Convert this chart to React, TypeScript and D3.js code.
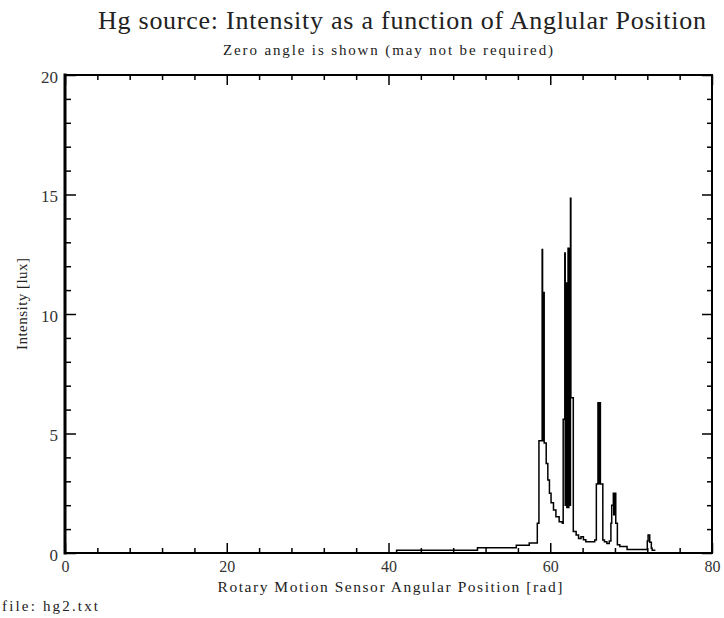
import React, { useEffect, useRef } from 'react';
import * as d3 from 'd3';

// angular position [rad] and intensity [lux]
const angle = [
  0, 41.0, 51.0, 55.8, 57.4, 58.4, 58.6,
  59.0, 59.05, 59.1, 59.13, 59.16, 59.19, 59.22, 59.25,
  59.5, 59.7, 59.9, 60.1, 60.4, 60.7, 61.1, 61.5,
  61.6, 61.8, 61.85, 61.9, 61.95, 62.0, 62.05, 62.1, 62.15,
  62.2, 62.25, 62.3, 62.35, 62.4, 62.45, 62.5, 62.55,
  62.85, 63.2, 63.5, 63.8, 64.1, 64.4, 65.0, 65.5,
  65.7, 65.9, 65.95, 66.0, 66.05, 66.1, 66.2,
  66.5, 66.7, 67.0, 67.3, 67.5, 67.6,
  67.8, 67.85, 67.9, 67.95, 68.0, 68.1,
  68.3, 68.6, 69.5, 71.9, 72.0, 72.1, 72.3, 72.5, 72.6, 73.0,
];
const intensity = [
  0, 0.12, 0.22, 0.32, 0.42, 1.25, 4.7,
  12.7, 4.7, 10.9, 4.8, 10.9, 4.8, 10.9, 4.6,
  3.75, 3.05, 2.5, 2.1, 1.8, 1.52, 1.31, 1.24,
  5.6, 12.55, 2.0, 11.3, 2.0, 11.3, 1.9, 11.3, 1.9,
  12.75, 1.9, 12.75, 2.0, 12.75, 2.0, 14.84, 6.5,
  0.9, 0.75, 0.61, 0.68, 0.55, 0.47, 0.47, 0.54,
  2.89, 6.29, 2.9, 6.29, 2.9, 6.29, 2.89,
  0.54, 0.47, 0.4, 0.5, 1.24, 2.0,
  2.5, 1.6, 2.5, 1.6, 2.5, 1.24,
  0.35, 0.27, 0.15, 0.15, 0.5, 0.75, 0.45, 0.2, 0.12, 0.12,
];

const xMajor = [0, 20, 40, 60, 80];
const xMinor = [4, 8, 12, 16, 24, 28, 32, 36, 44, 48, 52, 56, 64, 68, 72, 76];
const yMajor = [0, 5, 10, 15, 20];
const yMinor = [1, 2, 3, 4, 6, 7, 8, 9, 11, 12, 13, 14, 16, 17, 18, 19];

const W = 724;
const H = 618;
const FONT = 'Liberation Serif, serif';

const App = () => {
  const svgRef = useRef(null);

  useEffect(() => {
    const svg = d3.select(svgRef.current);
    svg.selectAll('*').remove();

    const x = d3.scaleLinear().domain([0, 80]).range([65, 712]);
    const y = d3.scaleLinear().domain([0, 20]).range([553, 75]);

    // data trace
    const line = d3
      .line<number>()
      .x((i) => x(angle[i]))
      .y((i) => y(intensity[i]))
      .curve(d3.curveStepAfter);
    svg
      .append('path')
      .datum(d3.range(angle.length))
      .attr('d', line)
      .attr('fill', 'none')
      .attr('stroke', '#000')
      .attr('stroke-width', 1.5);

    const styleAxis = (g, size = 17) => {
      g.attr('font-family', FONT);
      g.select('.domain').remove();
      g.selectAll('.tick line').attr('stroke', '#000').attr('stroke-width', 1.5);
      g.selectAll('.tick text')
        .attr('fill', '#333')
        .attr('font-family', FONT)
        .attr('font-size', size);
    };

    // bottom
    svg.append('g').attr('transform', 'translate(0,553)')
      .call(d3.axisBottom(x).tickValues(xMinor).tickSize(-5).tickFormat(() => ''))
      .call(styleAxis);
    svg.append('g').attr('transform', 'translate(0,553)')
      .call(d3.axisBottom(x).tickValues(xMajor).tickSize(-10).tickPadding(8).tickFormat(d3.format('d')))
      .call(styleAxis, 16);
    // top
    svg.append('g').attr('transform', 'translate(0,75)')
      .call(d3.axisTop(x).tickValues(xMinor).tickSize(-5).tickFormat(() => ''))
      .call(styleAxis);
    svg.append('g').attr('transform', 'translate(0,75)')
      .call(d3.axisTop(x).tickValues(xMajor).tickSize(-10).tickFormat(() => ''))
      .call(styleAxis);
    // left
    svg.append('g').attr('transform', 'translate(65,0)')
      .call(d3.axisLeft(y).tickValues(yMinor).tickSize(-6).tickFormat(() => ''))
      .call(styleAxis);
    svg.append('g').attr('transform', 'translate(65,0)')
      .call(d3.axisLeft(y).tickValues(yMajor).tickSize(-11).tickPadding(7).tickFormat(d3.format('d')))
      .call(styleAxis)
      .selectAll('.tick text')
      .attr('dy', '0.42em');
    // right
    svg.append('g').attr('transform', 'translate(712,0)')
      .call(d3.axisRight(y).tickValues(yMinor).tickSize(-5).tickFormat(() => ''))
      .call(styleAxis);
    svg.append('g').attr('transform', 'translate(712,0)')
      .call(d3.axisRight(y).tickValues(yMajor).tickSize(-10).tickFormat(() => ''))
      .call(styleAxis);

    // frame
    const [x0, x1] = x.range();
    const [y0, y1] = y.range();
    const frame = [
      { a: [x0, y1, x1, y1], w: 2 },
      { a: [x1, y1, x1, y0], w: 2 },
      { a: [x0, y0, x1, y0], w: 2 },
      { a: [x0, y1, x0, y0], w: 3 },
    ];
    svg.selectAll('line.frame')
      .data(frame)
      .enter()
      .append('line')
      .attr('class', 'frame')
      .attr('x1', (d) => d.a[0])
      .attr('y1', (d) => d.a[1])
      .attr('x2', (d) => d.a[2])
      .attr('y2', (d) => d.a[3])
      .attr('stroke', '#000')
      .attr('stroke-width', (d) => d.w)
      .attr('stroke-linecap', 'square');

    // texts
    const txt = (s, tx, ty, size, len, anchor = 'middle') =>
      svg.append('text')
        .attr('x', tx)
        .attr('y', ty)
        .attr('text-anchor', anchor)
        .attr('font-family', FONT)
        .attr('font-size', size)
        .attr('fill', '#222')
        .attr('textLength', len)
        .attr('lengthAdjust', 'spacing')
        .text(s);

    txt('Hg source: Intensity as a function of Anglular Position', 402, 29, 26, 608);
    txt('Zero angle is shown (may not be required)', 388, 55, 15, 330);
    txt('Rotary Motion Sensor Angular Position [rad]', 390, 592, 15.5, 345);
    txt('file: hg2.txt', 2, 611, 15, 96, 'start');
    txt('Intensity  [lux]', 0, 0, 15, 92)
      .attr('transform', 'translate(27,304) rotate(-90)');
  }, []);

  return (
    <svg
      ref={svgRef}
      width={W}
      height={H}
      style={{ position: 'absolute', left: 0, top: 0, background: '#fff' }}
    />
  );
};

export default App;
